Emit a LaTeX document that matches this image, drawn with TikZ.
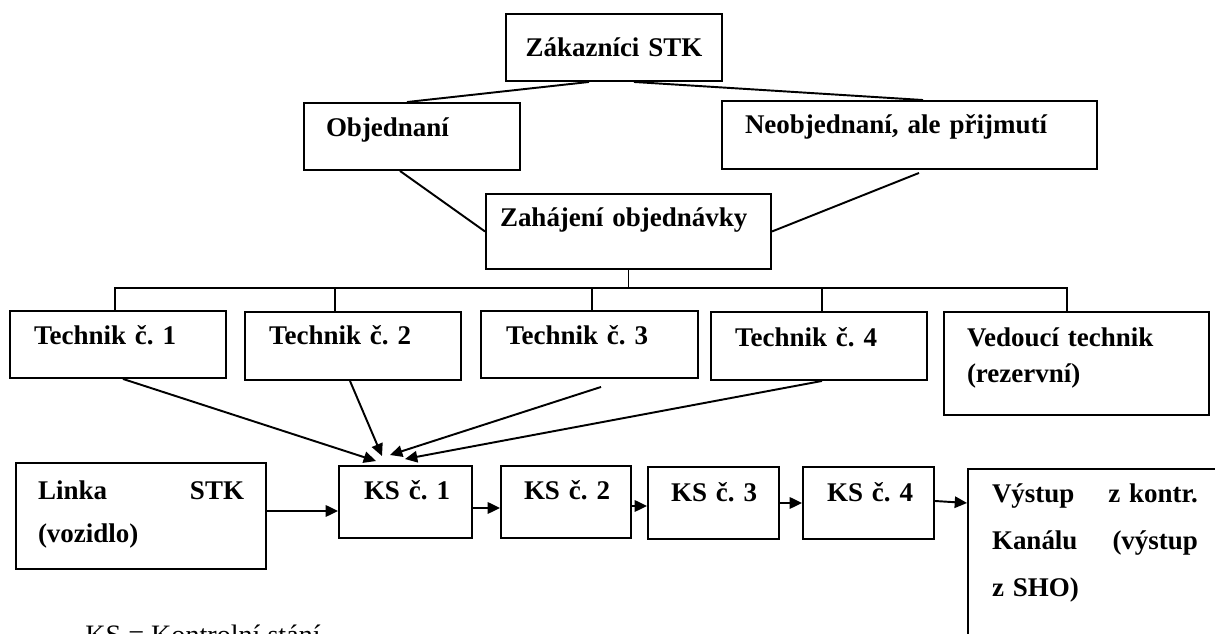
\documentclass[tikz,border=0pt]{standalone}
\usepackage{fontspec}
\setmainfont{Liberation Serif}
\usetikzlibrary{arrows.meta, calc}
\newdimen\pxu \pxu=0.02cm
\tikzset{
  BOX/.style args={#1/#2/#3/#4}{
    rectangle, draw=black, line width=1.1pt,
    font=\fontsize{15.36}{18.21}\selectfont\bfseries, align=left,
    text width=#1\pxu, inner xsep=#2\pxu, inner ysep=0pt,
    text height=#3\pxu, text depth=#4\pxu
  },
  LNK/.style={line width=1.1pt},
  ARR/.style={
    -{Triangle[length=7pt,width=6.5pt]},
    line width=1.1pt
  },
}
\begin{document}
\begin{tikzpicture}[x=0.02cm,y=-0.02cm]
\useasboundingbox (0,0) rectangle (1215,634);
\clip (0,0) rectangle (1215,634);

%================ CUSTOMERS =================
\node[BOX=196/10/43/24, align=center] (zak) at (614,47.5) {Zákazníci~STK};
\node[BOX=172/22/34/33] (obj)   at (412,136.5)  {Objednaní};
\node[BOX=329/23/33/35] (neobj) at (909.5,135)  {Neobjednaní, ale přijmutí};
\node[BOX=257/14/33/42] (zah)   at (628.5,231.5){Zahájení objednávky};

%================ TECHNICIANS =================
\node[BOX=168/24/34/33] (t1)  at (118,344.5)  {Technik~č.~1};
\node[BOX=168/24/33/35] (t2)  at (353,346)    {Technik~č.~2};
\node[BOX=167/25/34/33] (t3)  at (589.5,344.5){Technik~č.~3};
\node[BOX=168/24/35/33] (t4)  at (819,346)    {Technik~č.~4};
\node[BOX=219/23/35/68] (ved) at (1076.5,363.5)
{Vedoucí technik\\[4\pxu](rezervní)};

%================ INSPECTION LINE =================
\node[BOX=206/22/37/69] (linka) at (141,516)
{Linka\hfill STK\\[11\pxu](vozidlo)};

\node[BOX=83/25/34/38] (ks1) at (405.5,502) {KS~č.~1};
\node[BOX=84/23/34/38] (ks2) at (566,502)   {KS~č.~2};
\node[BOX=85/23/35/37] (ks3) at (713.5,503) {KS~č.~3};
\node[BOX=83/24/35/37] (ks4) at (868.5,503) {KS~č.~4};

\node[BOX=206/24/34/157] (vys) at (1095,564.5)
{Výstup\hfill z~kontr.\\[15\pxu]Kanálu\hfill (výstup\\[15\pxu]z SHO)};

%================ CAPTION =================
\node[anchor=base west,inner sep=0pt,font=\fontsize{16}{19}\selectfont]
(legenda) at (85,645) {KS = Kontrolní stání};

%================ ORDER FLOW =================
\draw[LNK] ($(zak.south)+(-25,0)$) -- ($(obj.north)+(-5,0)$);
\draw[LNK] ($(zak.south)+(20,0)$)  -- ($(neobj.north)+(13.5,0)$);
\draw[LNK] ($(obj.south)+(-12,0)$) -- (zah.west);
\draw[LNK] ($(neobj.south)+(9.5,3)$) -- (zah.east);

%================ DISTRIBUTION BUS =================
\coordinate (bus) at (629,288);
\draw[LNK] (zah.south) -- (zah.south |- bus);
\draw[LNK] ($(t1.north)+(-3,0)$) |- (bus) -| ($(ved.north)+(-9.5,0)$);
\draw[LNK] ($(t2.north)+(-18,0)$) coordinate (d2) -- (d2 |- bus);
\draw[LNK] ($(t3.north)+(2.5,0)$) coordinate (d3) -- (d3 |- bus);
\draw[LNK] ($(t4.north)+(3,0)$)   coordinate (d4) -- (d4 |- bus);

%================ ASSIGNMENT =================
\draw[ARR] ($(t1.south)+(5,0)$)    -- ($(ks1.north)+(-29.5,-4)$);
\draw[ARR] ($(t2.south)+(-3,0)$)   -- ($(ks1.north)+(-23.5,-9)$);
\draw[ARR] ($(t3.south)+(11.5,8)$) -- ($(ks1.north)+(-15.5,-10)$);
\draw[ARR] ($(t4.south)+(3,0)$)    -- ($(ks1.north)+(-0.5,-6)$);

%================ INSPECTION FLOW =================
\draw[ARR] ($(linka.east)+(0,-5)$) -- ($(ks1.west)+(0,9)$);
\draw[ARR] ($(ks1.east)+(0,6)$) -- ($(ks2.west)+(0,6)$);
\draw[ARR] ($(ks2.east)+(0,4)$) -- ($(ks3.west)+(0,3)$);
\draw[ARR] (ks3.east) -- (ks4.west);
\draw[ARR] ($(ks4.east)+(0,-2)$) -- (vys.west |- ks4.east);

\end{tikzpicture}
\end{document}
